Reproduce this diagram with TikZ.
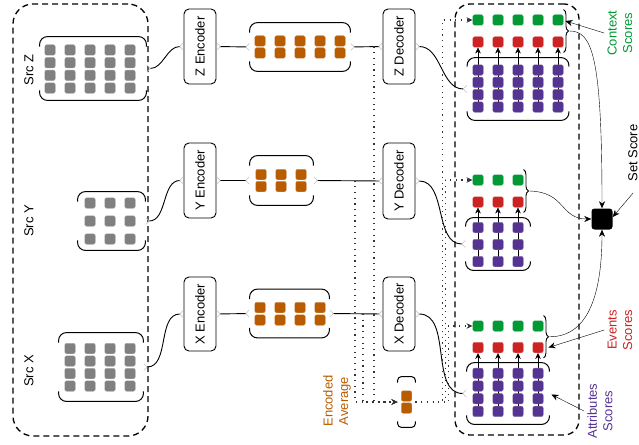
\documentclass[tikz,border=0pt]{standalone}
\usepackage{fontspec}
\setmainfont{Liberation Sans}
\usetikzlibrary{arrows.meta,decorations.pathreplacing,calc,backgrounds}
\definecolor{cgray}{RGB}{128,128,128}
\definecolor{corange}{RGB}{185,92,0}
\definecolor{cgreen}{RGB}{0,153,51}
\definecolor{cred}{RGB}{204,34,34}
\definecolor{cpurple}{RGB}{85,51,145}
\newcommand\bracketbox[3]{%
 \draw[bracketline,rounded corners=#2] ([yshift=-#3]#1.north west) -- (#1.north west) -- (#1.north east) -- ([yshift=-#3]#1.north east);
 \draw[bracketline,rounded corners=#2] ([yshift=#3]#1.south west) -- (#1.south west) -- (#1.south east) -- ([yshift=#3]#1.south east);}
\begin{document}
\begin{tikzpicture}[x=1pt,y=-1pt,
 font=\fontsize{13}{15.5}\selectfont,
 line width=0.9pt,
 sq/.style={minimum size=10.5pt, inner sep=0pt, rounded corners=2pt, fill=#1, draw=#1!70!white, line width=0.4pt},
 bb/.style={inner sep=0pt, draw=none},
 bracketline/.style={line width=1pt},
 codec/.style={draw, rounded corners=5pt, line width=0.9pt, minimum width=32pt, inner sep=0pt},
 dashbox/.style={draw, dash pattern=on 6pt off 4pt, line width=1.3pt, inner sep=0pt},
 port/.style={line width=0.9pt, {Straight Barb[reversed,length=3.5pt,width=7pt,color=black!25,line width=0.6pt]}-{Straight Barb[reversed,length=3.5pt,width=7pt,color=black!25,line width=0.6pt]}},
 dotline/.style={line width=1.1pt, dash pattern=on 1.2pt off 4.5pt, black!80},
 tip/.style={-{Stealth[length=7pt,width=6pt]}},
 smalltip/.style={-{Stealth[length=6pt,width=5.5pt]}},
 brc/.style={decorate, decoration={brace, amplitude=5pt}, line width=0.9pt},
]
\useasboundingbox (0,0) rectangle (639,444);

% group boxes
\node[dashbox, rounded corners=20pt, minimum width=135pt, minimum height=432pt] (srcgroup) at (80.5,220) {};
\node[dashbox, rounded corners=15pt, minimum width=124pt, minimum height=431pt] (outgroup) at (517,219.5) {};

% source labels
\node[rotate=90] (lsz) at (29,70) {Src Z};
\node[rotate=90] (lsy) at (29,221) {Src Y};
\node[rotate=90] (lsx) at (29,371) {Src X};

% source matrices
\node[bb, minimum width=106pt, minimum height=63pt] (srcz) at (93,68.5) {};
\node[bb, minimum width=67pt, minimum height=58pt] (srcy) at (111.5,221) {};
\node[bb, minimum width=84pt, minimum height=68pt] (srcx) at (101,367) {};
\bracketbox{srcz}{8pt}{10pt}
\bracketbox{srcy}{8pt}{10pt}
\bracketbox{srcx}{8pt}{10pt}
\foreach \i/\x in {1/50,2/70,3/90,4/110,5/130}
 \foreach \j/\y in {1/50,2/62.7,3/75.3,4/88}
  \node[sq=cgray] (sz-\i-\j) at (\x,\y) {};
\foreach \i/\x in {1/90,2/110,3/130}
 \foreach \j/\y in {1/203,2/221,3/239}
  \node[sq=cgray] (sy-\i-\j) at (\x,\y) {};
\foreach \i/\x in {1/70,2/90,3/110,4/130}
 \foreach \j/\y in {1/348.5,2/361,3/373.5,4/386}
  \node[sq=cgray] (sx-\i-\j) at (\x,\y) {};

% encoders
\node[codec, minimum height=75pt] (zenc) at (200,46.5) {\rotatebox{90}{Z Encoder}};
\node[codec, minimum height=75pt] (yenc) at (200,180.5) {\rotatebox{90}{Y Encoder}};
\node[codec, minimum height=74pt] (xenc) at (200,314) {\rotatebox{90}{X Encoder}};

% encoded
\node[bb, minimum width=100pt, minimum height=48pt] (zcode) at (300,47) {};
\node[bb, minimum width=63pt, minimum height=49pt] (ycode) at (281.5,180.5) {};
\node[bb, minimum width=79pt, minimum height=48pt] (xcode) at (289.5,313.5) {};
\bracketbox{zcode}{8pt}{10pt}
\bracketbox{ycode}{8pt}{10pt}
\bracketbox{xcode}{8pt}{10pt}
\foreach \i/\x in {1/260,2/280,3/300,4/320,5/340}
 \foreach \j/\y in {1/41,2/53}
  \node[sq=corange] (zo-\i-\j) at (\x,\y) {};
\foreach \i/\x in {1/261,2/281,3/301}
 \foreach \j/\y in {1/174.5,2/186.5}
  \node[sq=corange] (yo-\i-\j) at (\x,\y) {};
\foreach \i/\x in {1/260,2/280,3/300,4/320}
 \foreach \j/\y in {1/307.5,2/320}
  \node[sq=corange] (xo-\i-\j) at (\x,\y) {};

% decoders
\node[codec, minimum height=75pt] (zdec) at (399,46.5) {\rotatebox{90}{Z Decoder}};
\node[codec, minimum height=76pt] (ydec) at (399,181) {\rotatebox{90}{Y Decoder}};
\node[codec, minimum height=74pt] (xdec) at (399,314) {\rotatebox{90}{X Decoder}};

% encoded average
\node[bb, minimum width=17pt, minimum height=50pt] (avg) at (406.5,402) {};
\bracketbox{avg}{4pt}{6pt}
\node[sq=corange] (av-1) at (406.5,396) {};
\node[sq=corange] (av-2) at (406.5,408) {};
\node[rotate=90, align=center, text=corange] (lavg) at (337,401) {Encoded\\Average};

% outputs Z
\foreach \i/\x in {1/478,2/498,3/518,4/538,5/558} {
  \node[sq=cgreen] (zg-\i) at (\x,20) {};
  \node[sq=cred] (zr-\i) at (\x,42) {};
  \foreach \j/\y in {1/70,2/82.3,3/94.6,4/107}
    \node[sq=cpurple] (zp-\i-\j) at (\x,\y) {};
}
\node[bb, minimum width=101pt, minimum height=62pt] (zpb) at (518,89) {};
\bracketbox{zpb}{8pt}{9pt}
% outputs Y
\foreach \i/\x in {1/478,2/498,3/518} {
  \node[sq=cgreen] (yg-\i) at (\x,180) {};
  \node[sq=cred] (yr-\i) at (\x,202) {};
  \foreach \j/\y in {1/227.5,2/244.5,3/261.5}
    \node[sq=cpurple] (yp-\i-\j) at (\x,\y) {};
}
\node[bb, minimum width=64pt, minimum height=52pt] (ypb) at (498,244) {};
\bracketbox{ypb}{8pt}{9pt}
% outputs X
\foreach \i/\x in {1/478,2/498,3/518,4/538} {
  \node[sq=cgreen] (xg-\i) at (\x,326) {};
  \node[sq=cred] (xr-\i) at (\x,347.5) {};
  \foreach \j/\y in {1/373.3,2/386,3/398.7,4/411.4}
    \node[sq=cpurple] (xp-\i-\j) at (\x,\y) {};
}
\node[bb, minimum width=82pt, minimum height=61pt] (xpb) at (508,393.5) {};
\bracketbox{xpb}{8pt}{9pt}

\begin{pgfonlayer}{background}
\foreach \i in {1,...,5} \draw[smalltip] (zp-\i-4.center) -- (zr-\i.south);
\foreach \i in {1,...,3} \draw[smalltip] (yp-\i-3.center) -- (yr-\i.south);
\foreach \i in {1,...,4} \draw[smalltip] (xp-\i-4.center) -- (xr-\i.south);
\end{pgfonlayer}

% braces
\draw[brc] ($(zg-5.north east)+(0,-5)$) -- ($(zr-5.south east)+(0,5)$);
\draw[brc] ($(yg-3.north east)+(0,-5)$) -- ($(yr-3.south east)+(0,5)$);
\draw[brc] ($(xg-4.north east)+(0,-5)$) -- ($(xr-4.south east)+(0,5)$);
\coordinate (zt) at ($(zg-5.north east)!0.5!(zr-5.south east)+(6,0)$);
\coordinate (yt) at ($(yg-3.north east)!0.5!(yr-3.south east)+(6,0)$);
\coordinate (xt) at ($(xg-4.north east)!0.5!(xr-4.south east)+(6,0)$);

% set score
\node[fill=black, rounded corners=3pt, minimum size=21pt, inner sep=0pt] (setsq) at (602,219) {};
\draw[tip] (zt) .. controls (592,31) and (602,55) .. (setsq.north);
\draw[tip] (yt) .. controls (566,192) and (560,219) .. (setsq.west);
\draw[tip] (xt) .. controls (590,337) and (602,290) .. (setsq.south);

% labels
\node[rotate=90, align=center, text=cgreen] (lctx) at (620,33) {Context\\Scores};
\node[rotate=90] (lset) at (633,153) {Set Score};
\node[rotate=90, align=center, text=cred] (lev) at (620,330) {Events\\Scores};
\node[rotate=90, align=center, text=cpurple] (lat) at (600,411) {Attributes\\Scores};
\draw[tip] (lctx.north) -- ($(zg-5.east)+(2,1)$);
\draw[tip] ($(lset.west)+(0,8)$) -- ($(setsq.east)+(0,-2)$);
\draw[tip] (lev.north) -- ($(xr-4.east)+(5,0)$);
\draw[tip] (lat.north) -- ($(xpb.east)+(2,1)$);

% main connectors
\draw[port] (srcz.east) to[out=0,in=180] (zenc.west);
\draw[port] (srcy.east) to[out=0,in=180] (yenc.west);
\draw[port] (srcx.east) to[out=0,in=180] (xenc.west);
\draw[port] (zenc.east) -- (zcode.west);
\draw[port] (yenc.east) -- (ycode.west);
\draw[port] (xenc.east) -- (xcode.west);
\draw[port] (zcode.east) -- (zdec.west);
\draw[port] (ycode.east) -- (ydec.west);
\draw[port] (xcode.east) -- (xdec.west);
\draw[port] (zdec.east) to[out=0,in=180] (zpb.west);
\draw[port] (ydec.east) to[out=0,in=180] (ypb.west);
\draw[port] (xdec.east) to[out=0,in=180] (xpb.west);

% dotted averaging
\coordinate (dz) at (374,46.5);
\coordinate (dy) at (355,180.5);
\coordinate (dx) at (363,314);
\draw[dotline, smalltip] (dz) |- (avg.west);
\draw[dotline, smalltip] (dy) |- (avg.west);
\draw[dotline, smalltip] (dx) |- (avg.west);
\draw[dotline, smalltip] (avg.east) -- ++(27,0) |- (zg-1.west);
\draw[dotline, smalltip] (avg.east) -- ++(30,0) |- (yg-1.west);
\draw[dotline, smalltip] (avg.east) -- ++(33,0) |- (xg-1.west);
\end{tikzpicture}
\end{document}
